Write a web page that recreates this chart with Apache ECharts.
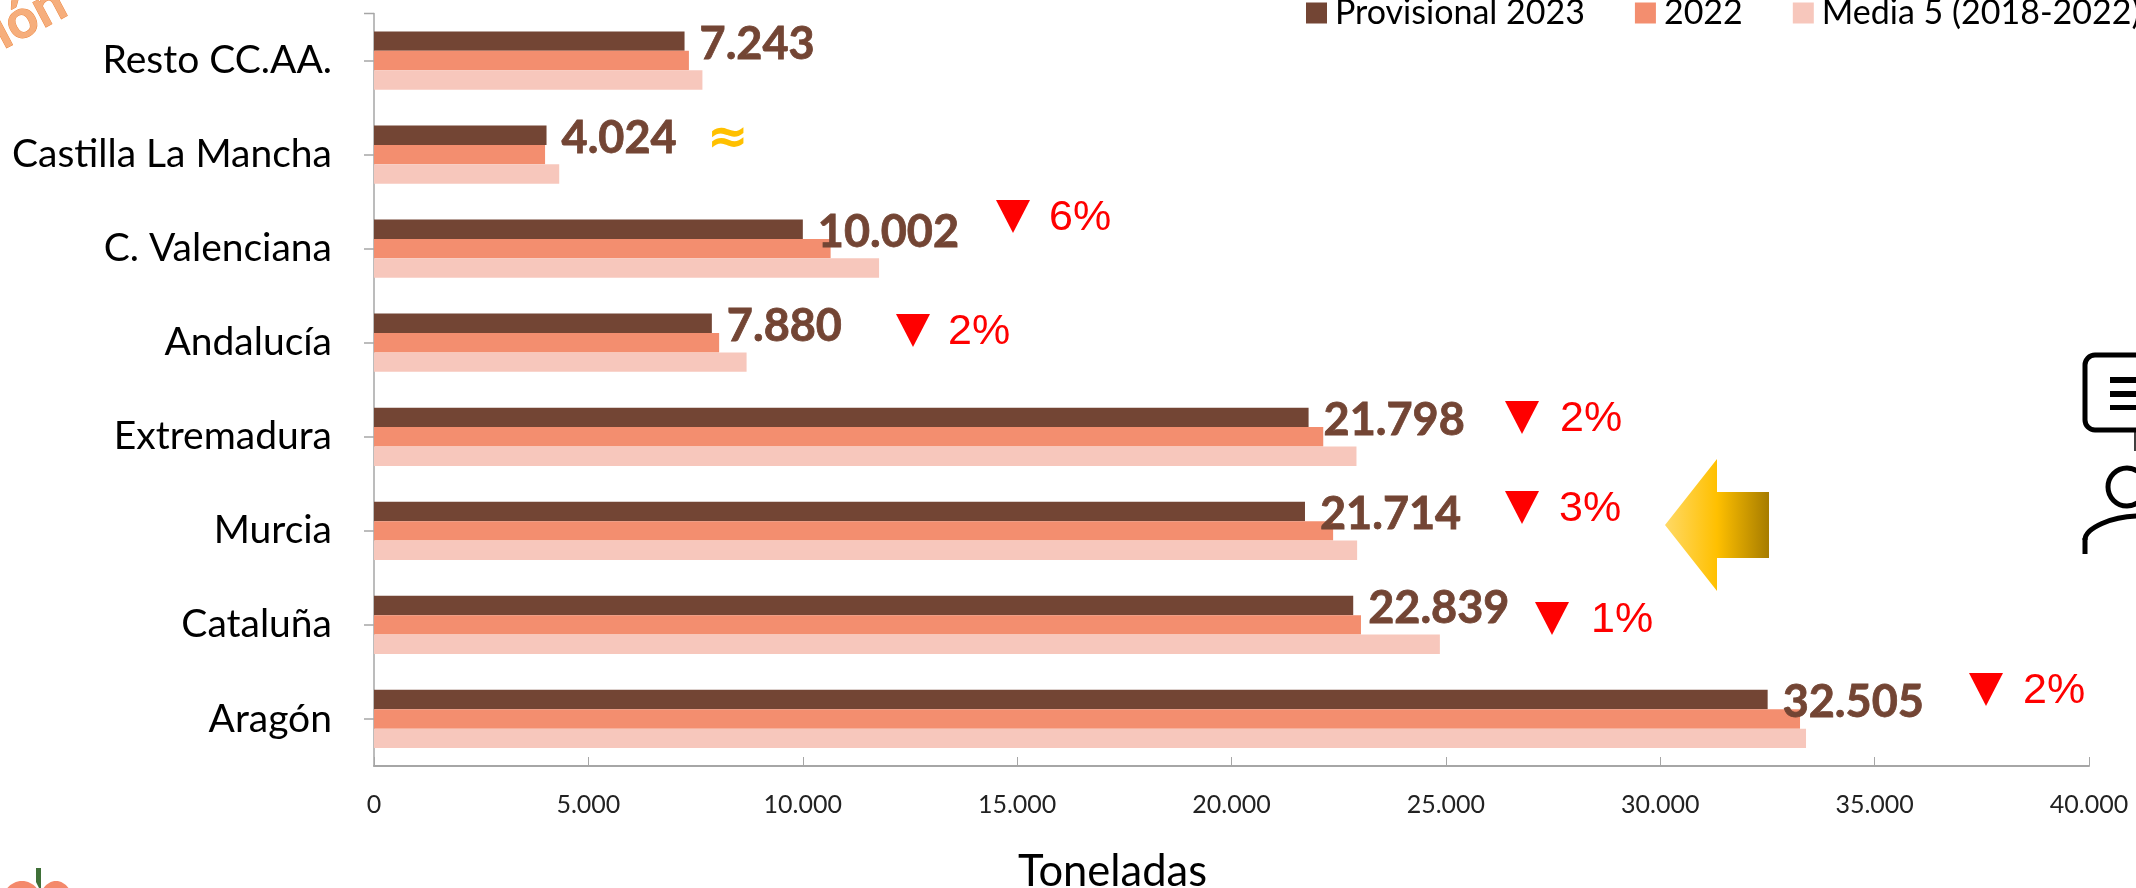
<!DOCTYPE html>
<html><head><meta charset="utf-8">
<style>html,body{margin:0;padding:0;background:#fff;overflow:hidden}#c{width:2136px;height:888px}</style>
<script src="https://cdn.jsdelivr.net/npm/echarts@6/dist/echarts.min.js"></script>
</head><body><div id="c"></div>
<script>
const categories = ['Resto CC.AA.','Castilla La Mancha','C. Valenciana','Andalucía','Extremadura','Murcia','Cataluña','Aragón'];
const provisional2023 = [7243,4024,10002,7880,21798,21714,22839,32505];
const year2022 = [7345,3990,10650,8050,22140,22370,23020,33260];
const media5 = [7660,4320,11780,8690,22915,22930,24860,33400];
const changeLabels = ['6%','2%','2%','3%','1%','2%'];
const xTicks = [0,5000,10000,15000,20000,25000,30000,35000,40000];
const seriesNames = ['Provisional 2023','2022','Media 5 (2018-2022)'];
const fmt = v => String(v).replace(/\B(?=(\d{3})+$)/g,'.');
const font = 'Lato';
const chart = echarts.init(document.getElementById('c'));

function tri(x,y){return {type:'polygon',shape:{points:[[x,y],[x+34,y],[x+17,y+33]]},style:{fill:'#FF0000'}};}
function pct(x,y,t){return {type:'text',x:x,y:y,style:{text:t,fill:'#FF0000',font:'43px "Liberation Sans"',textVerticalAlign:'middle'}};}
const anchors = [[996,200,1049],[896,314,948],[1505,401,1560],[1505,491,1559],[1535,602,1591],[1969,673,2023]];
const marks = [];
anchors.forEach((a,i)=>{marks.push(tri(a[0],a[1]));marks.push(pct(a[2],a[1]+18,changeLabels[i]));});

const decorations = [
 {type:'line',shape:{x1:364,y1:13.5,x2:374,y2:13.5},style:{stroke:'#A6A6A6',lineWidth:1.5}},
 {type:'text',x:707,y:140,style:{text:'≈',fill:'#FFC000',font:'bold 50px "DejaVu Sans"',textVerticalAlign:'middle'}},
 {type:'polygon',shape:{points:[[1665,525],[1717,459],[1717,492],[1769,492],[1769,558],[1717,558],[1717,591]]},
  style:{fill:new echarts.graphic.LinearGradient(0,0,1,0,[{offset:0,color:'#FFD966'},{offset:0.5,color:'#FFC000'},{offset:1,color:'#A67C00'}])}},
 {type:'rect',shape:{x:2085,y:355,width:80,height:75,r:10},style:{fill:'none',stroke:'#000',lineWidth:5}},
 {type:'rect',shape:{x:2110,y:377,width:30,height:6},style:{fill:'#000'}},
 {type:'rect',shape:{x:2110,y:391,width:30,height:6},style:{fill:'#000'}},
 {type:'rect',shape:{x:2110,y:405,width:30,height:5},style:{fill:'#000'}},
 {type:'line',shape:{x1:2135,y1:432,x2:2135,y2:451},style:{stroke:'#000',lineWidth:1.5}},
 {type:'circle',shape:{cx:2127,cy:487,r:19},style:{fill:'none',stroke:'#000',lineWidth:5}},
 {type:'line',shape:{x1:2085,y1:554,x2:2085,y2:538},style:{stroke:'#000',lineWidth:5}},
 {type:'bezierCurve',shape:{x1:2085,y1:540,cpx1:2085,cpy1:528,cpx2:2112,cpy2:516,x2:2140,y2:516},style:{fill:'none',stroke:'#000',lineWidth:5}},
 {type:'text',x:8,y:58,rotation:28*Math.PI/180,style:{text:'ión',fill:'#F6AE7C',stroke:'#ED8A45',lineWidth:1,font:'bold 54px '+font,textVerticalAlign:'bottom'}},
 {type:'ellipse',shape:{cx:22,cy:903,rx:20,ry:22},style:{fill:'#F4896B'}},
 {type:'ellipse',shape:{cx:56,cy:903,rx:17,ry:22},style:{fill:'#F4896B'}},
 {type:'polygon',shape:{points:[[36,868],[41,868],[41,888],[39,888],[36,882]]},style:{fill:'#3F7038'}}
];

const colors = ['#734534','#F38E6F','#F7C7BC'];
function bar(i,data,lab){
  return {name:seriesNames[i],type:'bar',data:data,barWidth:19.4,barGap:0,itemStyle:{color:colors[i]},z:2,silent:true,
    label:lab?{show:true,position:'right',distance:15,offset:[0,3],formatter:p=>fmt(p.value),color:'#734534',fontFamily:font,fontWeight:'bold',fontSize:45,textBorderColor:'#734534',textBorderWidth:0.8}:{show:false}};
}
chart.setOption({
  animation:false,
  backgroundColor:'#fff',
  textStyle:{fontFamily:font},
  grid:{left:374,right:47,top:13.5,bottom:122,containLabel:false,outerBoundsMode:'none'},
  legend:{left:1306,top:-4,width:1000,padding:0,itemWidth:21,itemHeight:21,itemGap:50,icon:'rect',selectedMode:false,
    data:seriesNames,textStyle:{fontFamily:font,fontSize:34,color:'#000',padding:[0,0,0,3]}},
  xAxis:{type:'value',min:0,max:40000,interval:5000,position:'bottom',
    name:'Toneladas',nameLocation:'middle',nameGap:84,nameTextStyle:{fontFamily:font,fontSize:43.5,color:'#000',padding:[0,238,0,0]},
    axisLine:{show:true,onZero:false,lineStyle:{color:'#A6A6A6',width:2}},
    axisTick:{show:true,inside:true,length:9,lineStyle:{color:'#A6A6A6',width:1}},
    splitLine:{show:false},
    axisLabel:{margin:26,fontFamily:font,fontSize:25,color:'#222',formatter:v=>xTicks.includes(v)?fmt(v):''}},
  yAxis:{type:'category',inverse:true,data:categories,
    axisLine:{show:true,lineStyle:{color:'#A6A6A6',width:1.5}},
    axisTick:{show:true,alignWithLabel:true,length:10,lineStyle:{color:'#A6A6A6',width:1.5}},
    axisLabel:{margin:42,fontFamily:font,fontSize:39,color:'#000'}},
  series:[bar(0,provisional2023,true),bar(1,year2022,false),bar(2,media5,false)],
  graphic:{elements:decorations.concat(marks).map(e=>Object.assign({silent:true,z:10},e))}
});
</script></body></html>
